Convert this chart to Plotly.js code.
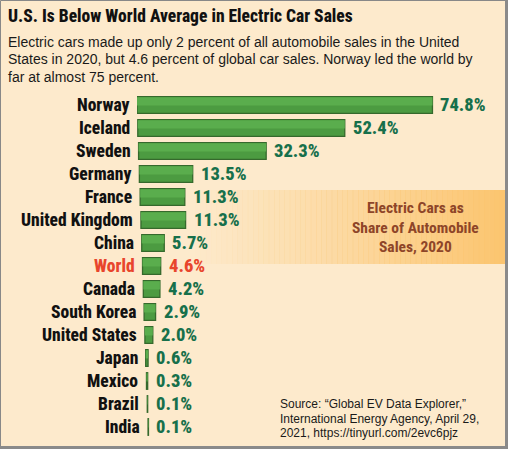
<!DOCTYPE html>
<html>
<head>
<meta charset="utf-8">
<script src="https://cdn.plot.ly/plotly-3.0.1.min.js"></script>
<style>html,body{margin:0;padding:0;background:#fdeacc;}#chart{width:508px;height:449px;}</style>
</head>
<body>
<div id="chart"></div>
<script>
// ---- data ----
const countries = ['Norway','Iceland','Sweden','Germany','France','United Kingdom','China','World','Canada','South Korea','United States','Japan','Mexico','Brazil','India'];
const shares = [74.8, 52.4, 32.3, 13.5, 11.3, 11.3, 5.7, 4.6, 4.2, 2.9, 2.0, 0.6, 0.3, 0.1, 0.1];
const highlight = 'World';

const titleText = 'U.S. Is Below World Average in Electric Car Sales';
const subtitleLines = ['Electric cars made up only 2 percent of all automobile sales in the United',
  'States in 2020, but 4.6 percent of global car sales. Norway led the world by',
  'far at almost 75 percent.'];
const legendLines = ['Electric Cars as', 'Share of Automobile', 'Sales, 2020'];
const sourceLines = ['Source: \u201cGlobal EV Data Explorer,\u201d', 'International Energy Agency, April 29,', '2021, https://tinyurl.com/2evc6pjz'];

// ---- layout helpers ----
const W = 508, H = 449;
const ML = 137, MR = 0, MT = 92, MB = 9;
const plotW = W - ML - MR, plotH = H - MT - MB;
const pxPerUnit = 3.95;
const px = v => (v - ML) / plotW;
const py = v => (H - MB - v) / plotH;

const COND = '"Roboto Condensed", Roboto, sans-serif';
const REG = '"Liberation Sans", Arial, sans-serif';
const GREEN_TXT = '#17704b';
const RED = '#e8452c';

// perspective skew of bar starts (styling only)
const skew = countries.map((c, i) => i * 0.2);

const bars = {
  type: 'bar', orientation: 'h',
  y: countries, x: shares, base: skew,
  marker: { color: '#4c9b41', line: { color: '#35692c', width: 1.3 } },
  width: 0.72,
  hoverinfo: 'skip'
};
// lighter top face highlight (same data, thinner, offset upward)
const highlightFace = {
  type: 'bar', orientation: 'h',
  y: countries, x: shares, base: skew,
  marker: { color: '#5aad4d', line: { width: 0 } },
  width: 0.36, offset: -0.34,
  hoverinfo: 'skip'
};

const annotations = [];
countries.forEach((c, i) => {
  const isHi = c === highlight;
  annotations.push({
    x: skew[i], y: c, xref: 'x', yref: 'y', xanchor: 'right', yanchor: 'middle',
    xshift: -6, text: c, showarrow: false,
    font: { family: COND, size: 17.5, weight: 800, color: isHi ? RED : '#111' }
  });
  annotations.push({
    x: skew[i] + shares[i], y: c, xref: 'x', yref: 'y', xanchor: 'left', yanchor: 'middle',
    xshift: 6, text: shares[i].toFixed(1) + '%', showarrow: false,
    font: { family: COND, size: 18.5, weight: 800, color: isHi ? RED : GREEN_TXT }
  });
});

annotations.push({
  x: px(6), y: py(16), xref: 'paper', yref: 'paper', xanchor: 'left', yanchor: 'middle',
  text: titleText, showarrow: false,
  font: { family: COND, size: 17.5, weight: 800, color: '#111' }
});
const subY = [42, 59.5, 77];
subtitleLines.forEach((s, i) => annotations.push({
  x: px(6), y: py(subY[i]), xref: 'paper', yref: 'paper', xanchor: 'left', yanchor: 'middle',
  text: s, showarrow: false, font: { family: REG, size: 14, color: '#1a1a1a' }
}));
const legY = [208, 227.5, 247];
legendLines.forEach((s, i) => annotations.push({
  x: px(415), y: py(legY[i]), xref: 'paper', yref: 'paper', xanchor: 'center', yanchor: 'middle',
  text: s, showarrow: false, font: { family: COND, size: 15.5, weight: 700, color: '#8e4528' }
}));
const srcY = [404, 418.5, 433];
sourceLines.forEach((s, i) => annotations.push({
  x: px(278), y: py(srcY[i]), xref: 'paper', yref: 'paper', xanchor: 'left', yanchor: 'middle',
  text: s, showarrow: false, font: { family: REG, size: 12, color: '#1a1a1a' }
}));

// gradient band + frame (styling)
const shapes = [];
const N = 60, bx0 = 190, bx1 = 505, by0 = 190, by1 = 264;
for (let k = 0; k < N; k++) {
  const t = (k + 0.5) / N;
  shapes.push({
    type: 'rect', xref: 'paper', yref: 'paper', layer: 'below',
    x0: px(bx0 + (bx1 - bx0) * k / N), x1: px(bx0 + (bx1 - bx0) * (k + 1) / N + 0.5),
    y0: py(by1), y1: py(by0),
    fillcolor: 'rgba(251,196,110,' + Math.pow(t, 1.1).toFixed(3) + ')', line: { width: 0 }
  });
}
shapes.push({ type: 'rect', xref: 'paper', yref: 'paper', x0: px(0.5), x1: px(506), y0: py(447), y1: py(0.5),
  line: { color: '#888', width: 1 } });
shapes.push({ type: 'line', xref: 'paper', yref: 'paper', x0: px(506.5), x1: px(506.5), y0: py(449), y1: py(0),
  line: { color: '#8a8a8a', width: 3 } });
shapes.push({ type: 'line', xref: 'paper', yref: 'paper', x0: px(0), x1: px(508), y0: py(447.5), y1: py(447.5),
  line: { color: '#8a8a8a', width: 3 } });

const layout = {
  width: W, height: H,
  margin: { l: ML, r: MR, t: MT, b: MB, pad: 0 },
  paper_bgcolor: '#fdeacc', plot_bgcolor: 'rgba(0,0,0,0)',
  showlegend: false, barmode: 'overlay',
  xaxis: { range: [0, plotW / pxPerUnit], visible: false, fixedrange: true },
  yaxis: { type: 'category', autorange: 'reversed', visible: false, fixedrange: true },
  annotations: annotations, shapes: shapes
};

Plotly.newPlot('chart', [bars, highlightFace], layout, { displayModeBar: false, staticPlot: true });
</script>
</body>
</html>
